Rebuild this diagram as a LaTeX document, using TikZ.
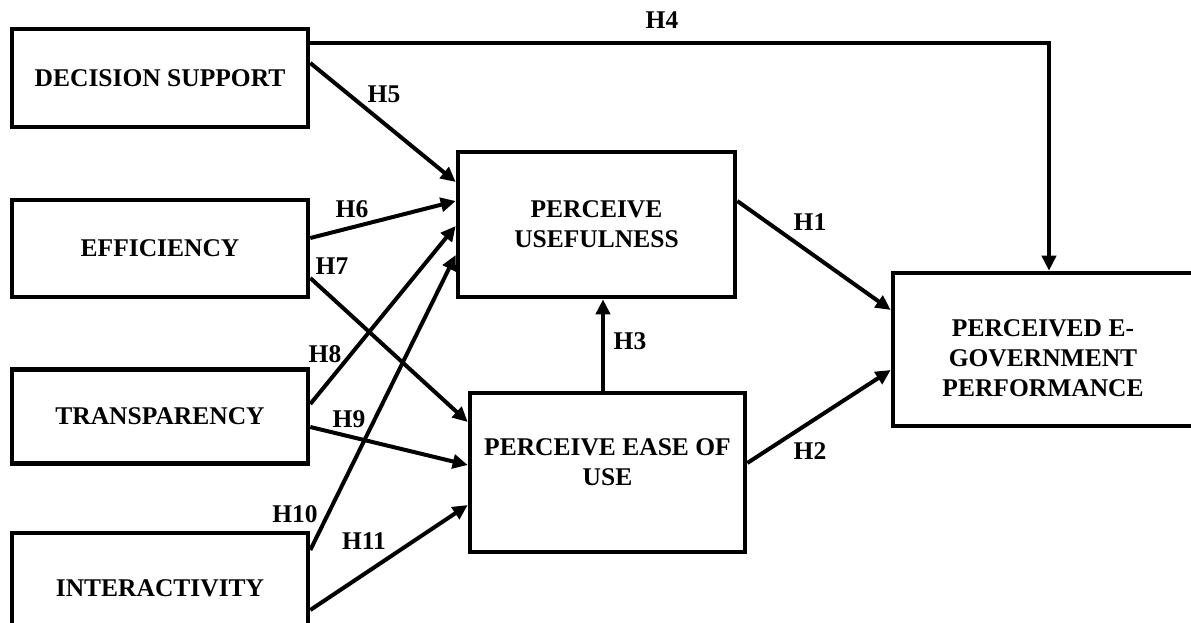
\documentclass[tikz,border=0pt]{standalone}
\usepackage{fontspec}
\setmainfont{Liberation Serif}
\usetikzlibrary{arrows.meta}

\newcommand{\hfont}{\fontsize{25.5}{30}\selectfont\bfseries}

\tikzset{
  box/.style={draw, line width=4.6pt, inner sep=0pt, align=center, font=\hfont},
  boxtext/.style={inner sep=0pt, align=center, font=\hfont},
  hyp/.style={inner sep=0pt, font=\hfont},
  arr/.style={-{Triangle[length=15pt,width=14pt]}, line width=4pt}
}

\begin{document}
\begin{tikzpicture}[x=1pt, y=-1pt]
\useasboundingbox (0,0) rectangle (1191,622);

\node[box, minimum width=296pt, minimum height=98pt] (ds) at (160,78) {DECISION SUPPORT}; % decision support
\node[box, minimum width=296pt, minimum height=97pt] (eff) at (160,248.5) {EFFICIENCY}; % efficiency
\node[box, minimum width=296pt, minimum height=94pt] (trans) at (160,416.5) {TRANSPARENCY}; % transparency
\node[box, minimum width=296pt, minimum height=110pt] (inter) at (160,588) {INTERACTIVITY}; % interactivity

\node[box, minimum width=277pt, minimum height=145pt] (pu) at (596.5,224.5) {PERCEIVE\\USEFULNESS}; % usefulness
\node[box, minimum width=275pt, minimum height=159pt] (peu) at (607.5,472.5) {}; % ease of use
\node[boxtext] (peutext) at (607.5,462) {PERCEIVE EASE OF\\USE}; % ease of use text
\node[box, minimum width=302pt, minimum height=153pt] (pegp) at (1044,349.5) {}; % performance
\node[boxtext] (pegptext) at (1043,358.5) {PERCEIVED E-\\GOVERNMENT\\PERFORMANCE}; % performance text

\draw[arr] ([yshift=35pt]ds.east) -| ([xshift=5pt]pegp.north); % H4
\draw[arr] ([yshift=15pt]ds.east) -- ([yshift=42.5pt]pu.west); % H5
\draw[arr] ([yshift=10.5pt]eff.east) -- ([yshift=23.5pt]pu.west); % H6
\draw[arr] ([yshift=-29.5pt]eff.east) -- ([yshift=50.5pt]peu.west); % H7
\draw[arr] ([yshift=12.5pt]trans.east) -- ([yshift=-1.5pt]pu.west); % H8
\draw[arr] ([yshift=-10.5pt]trans.east) -- ([yshift=7.5pt]peu.west); % H9
\draw[arr] ([yshift=38pt]inter.east) -- ([yshift=-30.5pt]pu.west); % H10
\draw[arr] ([yshift=-22pt]inter.east) -- ([yshift=-32.5pt]peu.west); % H11
\draw[arr] ([yshift=23.5pt]pu.east) -- ([yshift=39.5pt]pegp.west); % H1
\draw[arr] ([yshift=9.5pt]peu.east) -- ([yshift=-20.5pt]pegp.west); % H2
\draw[arr] ([xshift=-4.5pt]peu.north) -- ([xshift=-4.5pt]peu.north |- pu.south); % H3

\node[hyp] (h1) at (810,222) {H1};
\node[hyp] (h2) at (810,451) {H2};
\node[hyp] (h3) at (630,341) {H3};
\node[hyp] (h4) at (662,20) {H4};
\node[hyp] (h5) at (384,94) {H5};
\node[hyp] (h6) at (352,209) {H6};
\node[hyp] (h7) at (332,266) {H7};
\node[hyp] (h8) at (325,354) {H8};
\node[hyp] (h9) at (349,419) {H9};
\node[hyp] (h10) at (295,514) {H10};
\node[hyp] (h11) at (364,541) {H11};

\end{tikzpicture}
\end{document}
